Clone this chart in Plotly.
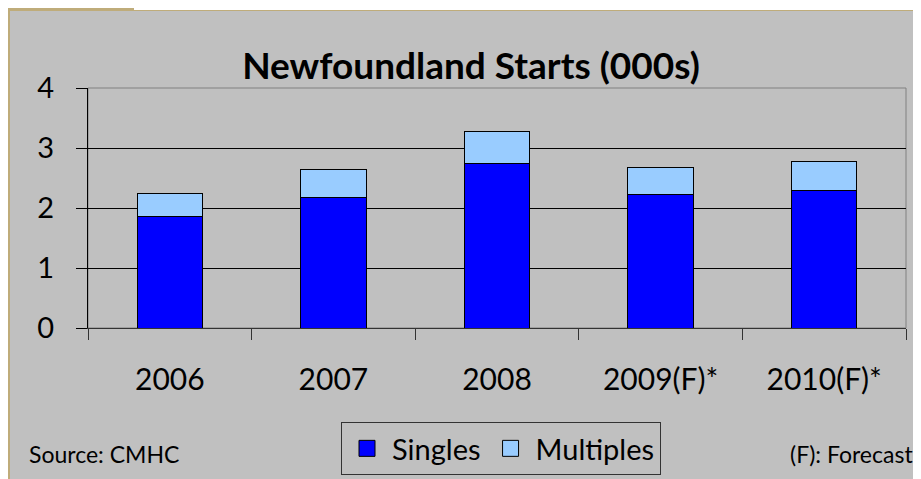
import plotly.graph_objects as go

# 数据
years = ['2006', '2007', '2008', '2009(F)*', '2010(F)*']
singles = [1.86, 2.18, 2.75, 2.23, 2.30]
multiples = [0.38, 0.47, 0.52, 0.45, 0.47]

# 页面 body 有 8px 外边距，图形整体向右下偏移 8px
OFF = 8
W, H = 921 - OFF, 479 - OFF
L, R, T, B = 88 - OFF, 15, 88 - OFF, 151
pw, ph = W - L - R, H - T - B

def px_x(p):
    # 屏幕像素 -> paper 坐标
    return (p - OFF - L) / pw

def px_y(p):
    return (H - B - (p - OFF)) / ph

tan = '#bfac7a'
font = 'Lato, "Open Sans", sans-serif'
c_single = '#0000ff'
c_multi = '#99ccff'

fig = go.Figure()
fig.add_trace(go.Bar(x=years, y=singles, name='Singles', showlegend=False,
                     marker=dict(color=c_single, line=dict(color='black', width=1))))
fig.add_trace(go.Bar(x=years, y=multiples, name='Multiples', showlegend=False,
                     marker=dict(color=c_multi, line=dict(color='black', width=1))))

# 图例用的方块（加大图例符号）
for name, col in [('Singles', c_single), ('Multiples', c_multi)]:
    fig.add_trace(go.Scatter(x=[None], y=[None], mode='markers', name=name,
                             marker=dict(symbol='square', size=22, color=col,
                                         line=dict(color='black', width=1))))

shapes = [
    # 顶部白条 / 顶部褐色块 / 左侧褐色边 / 顶部褐色线
    dict(type='rect', xref='paper', yref='paper', x0=px_x(134), x1=px_x(930), y0=px_y(10), y1=px_y(0),
         fillcolor='white', line_width=0, layer='below'),
    dict(type='rect', xref='paper', yref='paper', x0=px_x(0), x1=px_x(134), y0=px_y(10), y1=px_y(0),
         fillcolor=tan, line_width=0, layer='below'),
    dict(type='rect', xref='paper', yref='paper', x0=px_x(0), x1=px_x(10), y0=px_y(490), y1=px_y(10),
         fillcolor=tan, line_width=0, layer='below'),
    dict(type='rect', xref='paper', yref='paper', x0=px_x(10), x1=px_x(930), y0=px_y(11), y1=px_y(10),
         fillcolor=tan, line_width=0, layer='below'),
    # 绘图区边框
    dict(type='rect', xref='paper', yref='paper', x0=0, x1=1, y0=0, y1=1,
         line=dict(color='#808080', width=1), layer='below'),
]

fig.update_layout(
    width=W, height=H,
    barmode='stack', bargap=0.6,
    paper_bgcolor='#c0c0c0', plot_bgcolor='#c0c0c0',
    margin=dict(l=L, r=R, t=T, b=B, autoexpand=False),
    font=dict(family=font, color='black'),
    title=dict(text='<b>Newfoundland Starts (000s)</b>', x=(471 - OFF) / W, xanchor='center',
               y=1 - (66 - OFF) / H, yanchor='middle', font=dict(size=37, family=font)),
    xaxis=dict(showline=True, linecolor='#333333', ticks='outside', tickson='boundaries',
               ticklen=11, tickcolor='#333333', tickfont=dict(size=30), ticklabelstandoff=25,
               showgrid=False, automargin=False),
    yaxis=dict(range=[0, 4], dtick=1, showline=True, linecolor='black', ticks='outside',
               ticklen=11, tickcolor='black', tickfont=dict(size=29), ticklabelstandoff=16,
               showgrid=True, gridcolor='black', gridwidth=1, zeroline=False, automargin=False),
    legend=dict(orientation='h', x=px_x(501), xanchor='center', y=px_y(422), yanchor='top',
                bordercolor='#333333', borderwidth=1, bgcolor='rgba(0,0,0,0)',
                font=dict(size=29), traceorder='normal', itemsizing='trace', itemwidth=40),
    shapes=shapes,
    annotations=[
        dict(text='Source: CMHC', xref='paper', yref='paper', x=px_x(27), y=px_y(454),
             xanchor='left', yanchor='middle', showarrow=False, font=dict(size=23)),
        dict(text='(F): Forecast', xref='paper', yref='paper', x=px_x(915), y=px_y(454),
             xanchor='right', yanchor='middle', showarrow=False, font=dict(size=23)),
    ],
)

fig.write_html('out.html')
